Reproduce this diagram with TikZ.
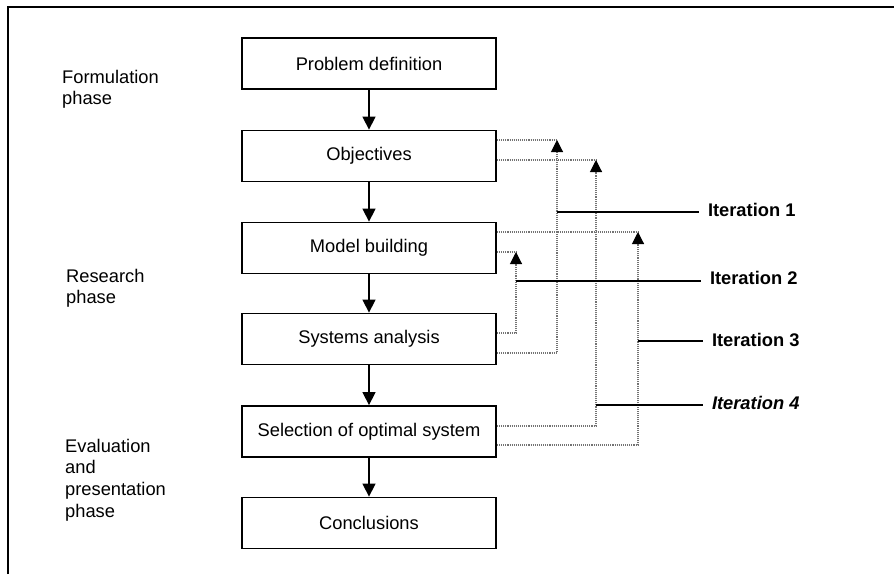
\documentclass[tikz,border=0pt]{standalone}
\usepackage{fontspec}
\setmainfont{Liberation Sans}
\usetikzlibrary{arrows.meta}

\tikzset{
  stepbox/.style={draw, line width=1.8pt, minimum width=254pt, minimum height=51pt,
    inner sep=0pt, font=\fontsize{18.3}{21.6}\selectfont},
  phaselabel/.style={anchor=north west, align=left, inner sep=0pt,
    font=\fontsize{18.3}{21.7}\selectfont},
  flow/.style={line width=1.4pt, -{Triangle[length=13pt,width=13pt]}},
  ret/.style={densely dotted, draw=black!55, line width=1.1pt},
  retarrow/.style={ret, -{Triangle[length=12pt,width=12pt,color=black,fill=black]}},
  itline/.style={line width=2pt},
  itlabel/.style={anchor=west, inner xsep=9pt, inner ysep=0pt, outer sep=0pt,
    font=\fontsize{18.3}{21.6}\selectfont\bfseries},
  frameline/.style={line width=1.5pt}
}

\begin{document}
\begin{tikzpicture}[x=1pt, y=-1pt]
  \useasboundingbox (0,0) rectangle (894,574);
  \fill[white] (0,0) rectangle (894,574);

  % open frame: top and left edges
  \draw[frameline] (8,574) -- (8,7) -- (894,7);

  % main chain of steps
  \node[stepbox] (pd)  at (369,63.5)  {Problem definition};
  \node[stepbox] (obj) at (369,156)   {Objectives};
  \node[stepbox] (mb)  at (369,248)   {Model building};
  \node[stepbox] (sa)  at (369,339)   {Systems analysis};
  \node[stepbox] (sel) at (369,431.5) {Selection of optimal system};
  \node[stepbox] (con) at (369,523)   {Conclusions};

  \draw[flow] (pd)  -- (obj);
  \draw[flow] (obj) -- (mb);
  \draw[flow] (mb)  -- (sa);
  \draw[flow] (sa)  -- (sel);
  \draw[flow] (sel) -- (con);

  % phase labels
  \node[phaselabel] (ph1) at (62,69.6)  {Formulation\\phase};
  \node[phaselabel] (ph2) at (66,268.6) {Research\\phase};
  \node[phaselabel] (ph3) at (65,438.8) {Evaluation\\and\\presentation\\phase};

  % iteration labels
  \node[itlabel] (it1) at (699,210) {Iteration 1};
  \node[itlabel] (it2) at (701,278) {Iteration 2};
  \node[itlabel] (it3) at (703,340) {Iteration 3};
  \node[itlabel] (it4) at (703,403) {\itshape Iteration 4};

  % turning points of the feedback loops
  \coordinate (t1) at (557,140);  \coordinate (b1) at (557,353);  \coordinate (m1) at (557,212);
  \coordinate (t2) at (516,252);  \coordinate (b2) at (516,333);  \coordinate (m2) at (516,281);
  \coordinate (t3) at (638,232);  \coordinate (b3) at (638,445);  \coordinate (m3) at (638,341);
  \coordinate (t4) at (596,160);  \coordinate (b4) at (596,426);  \coordinate (m4) at (596,405);

  % iteration 1: systems analysis back to objectives
  \draw[ret] (obj.east |- t1) -- (t1);
  \draw[retarrow] (sa.east |- b1) -- (b1) -- (t1);
  % iteration 2: systems analysis back to model building
  \draw[ret] (mb.east |- t2) -- (t2);
  \draw[retarrow] (sa.east |- b2) -- (b2) -- (t2);
  % iteration 3: selection back to model building
  \draw[ret] (mb.east |- t3) -- (t3);
  \draw[retarrow] (sel.east |- b3) -- (b3) -- (t3);
  % iteration 4: selection back to objectives
  \draw[ret] (obj.east |- t4) -- (t4);
  \draw[retarrow] (sel.east |- b4) -- (b4) -- (t4);

  % leader lines to the iteration labels
  \draw[itline] (m1) -- (m1 -| it1.west);
  \draw[itline] (m2) -- (m2 -| it2.west);
  \draw[itline] (m3) -- (m3 -| it3.west);
  \draw[itline] (m4) -- (m4 -| it4.west);
\end{tikzpicture}
\end{document}
